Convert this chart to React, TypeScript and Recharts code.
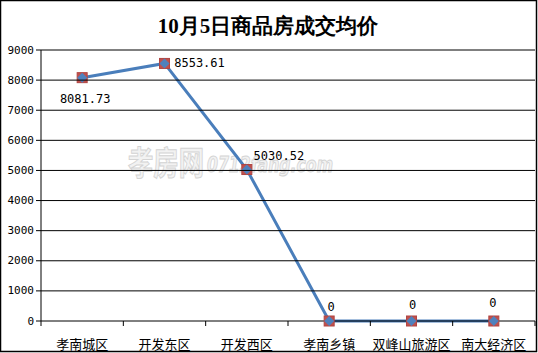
import React from 'react';
import { LineChart, Line, XAxis, YAxis } from 'recharts';

const categories = ['孝南城区', '开发东区', '开发西区', '孝南乡镇', '双峰山旅游区', '南大经济区'];
const prices = [8081.73, 8553.61, 5030.52, 0, 0, 0];
const priceLabels = ['8081.73', '8553.61', '5030.52', '0', '0', '0'];
const yTicks = [0, 1000, 2000, 3000, 4000, 5000, 6000, 7000, 8000, 9000];

const data = categories.map((name, i) => ({ name, value: prices[i] }));

// label offsets relative to the point (dx, dy of text centre)
const LABEL_OFFSET = [
  [3, 21],
  [35, 0],
  [32, -14],
  [2, -14],
  [1, -16],
  [-1, -18],
];

const PLOT_LEFT = 41;
const PLOT_RIGHT = 535;
const BAND = (PLOT_RIGHT - PLOT_LEFT) / categories.length;

const Marker = (props: any) => {
  const { cx, cy } = props;
  if (cx == null || cy == null) return null;
  return (
    <g>
      <rect x={cx - 5} y={cy - 5} width={10} height={10} fill="#c0504d" stroke="#b04542" strokeWidth={1} />
      <polygon points={`${cx},${cy - 5} ${cx + 5},${cy} ${cx},${cy + 5} ${cx - 5},${cy}`} fill="#4f81bd" />
    </g>
  );
};

const PriceLabel = (props: any) => {
  const { x, y, index } = props;
  const [dx, dy] = LABEL_OFFSET[index];
  return (
    <text x={x + dx} y={y + dy} textAnchor="middle" dominantBaseline="central" fontSize={12} fill="#000" fontFamily="'DejaVu Sans Mono', monospace">
      {priceLabels[index]}
    </text>
  );
};

// y tick: label + horizontal gridline across the plot
const ValueTick = (props: any) => {
  const { x, y, payload } = props;
  return (
    <g>
      {payload.value !== 0 && (
        <line x1={PLOT_LEFT} y1={y} x2={PLOT_RIGHT} y2={y} stroke="#000" strokeWidth={1} />
      )}
      <text x={x} y={y} textAnchor="end" dominantBaseline="central" fontSize={11} fill="#000" fontFamily="'DejaVu Sans Mono', monospace">
        {payload.value}
      </text>
    </g>
  );
};

const CatTick = (props: any) => {
  const { x, y, payload, index } = props;
  return (
    <g>
      <line x1={x - BAND / 2} y1={y - 8} x2={x - BAND / 2} y2={y - 3} stroke="#000" />
      {index === categories.length - 1 && (
        <line x1={x + BAND / 2} y1={y - 8} x2={x + BAND / 2} y2={y - 3} stroke="#000" />
      )}
      <text x={x} y={y + 14} textAnchor="middle" dominantBaseline="central" fontSize={13} fill="#000" fontFamily="'Noto Sans CJK SC', sans-serif">
        {payload.value}
      </text>
    </g>
  );
};

export default function App() {
  return (
    <div style={{ position: 'absolute', left: 0, top: 0, width: 538, height: 353, background: '#fff' }}>
      <LineChart width={538} height={353} data={data} margin={{ top: 50, right: 3, bottom: 2, left: 0 }}>
        <rect x={0.5} y={0.5} width={536} height={351} fill="none" stroke="#000" strokeWidth={1.5} />
        <text x={268} y={26} textAnchor="middle" dominantBaseline="central" fontSize={21} fontWeight="bold" fontFamily="serif" fill="#000">
          10月5日商品房成交均价
        </text>
        <text x={128} y={161} fontSize={33} fontWeight="bold" fill="#f2f2f2" stroke="#d4d4d4" strokeWidth={1} fontFamily="'Noto Sans CJK SC', sans-serif" dominantBaseline="central" textLength={76} lengthAdjust="spacingAndGlyphs">
          孝房网
        </text>
        <text x={207} y={164} fontSize={22} fontStyle="italic" fontWeight="bold" fill="#f2f2f2" stroke="#d4d4d4" strokeWidth={1} fontFamily="'DejaVu Sans', sans-serif" dominantBaseline="central" textLength={126} lengthAdjust="spacingAndGlyphs">
          0712fang.com
        </text>
        <XAxis
          dataKey="name"
          scale="band"
          height={30}
          axisLine={{ stroke: '#000' }}
          tickLine={false}
          tick={<CatTick />}
          interval={0}
        />
        <YAxis
          width={41}
          domain={[0, 9000]}
          ticks={yTicks}
          axisLine={{ stroke: '#000' }}
          tickLine={{ stroke: '#000' }}
          tickSize={5}
          tick={<ValueTick />}
        />
        <Line
          type="linear"
          dataKey="value"
          stroke="#4a7ebb"
          strokeWidth={3}
          dot={<Marker />}
          activeDot={false}
          label={<PriceLabel />}
          isAnimationActive={false}
        />
      </LineChart>
    </div>
  );
}
